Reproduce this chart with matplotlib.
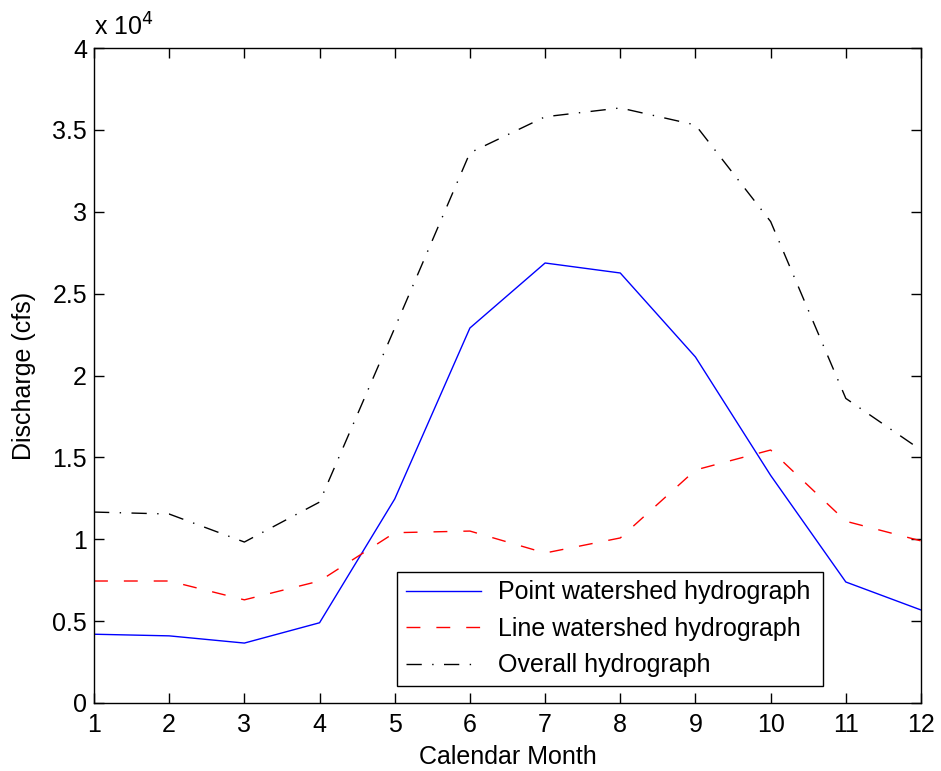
import matplotlib
matplotlib.use('Agg')
import matplotlib.pyplot as plt
import numpy as np

plt.rcParams['font.family'] = ['Liberation Sans', 'DejaVu Sans']

# Monthly discharge, in units of 1e4 cfs
months = np.arange(1, 13)
point_ws = [0.42, 0.41, 0.366, 0.49, 1.246, 2.29, 2.687, 2.626, 2.113, 1.39, 0.739, 0.568]
line_ws = [0.745, 0.745, 0.63, 0.745, 1.04, 1.05, 0.916, 1.008, 1.423, 1.545, 1.11, 0.99]
overall = [1.166, 1.154, 0.983, 1.227, 2.29, 3.36, 3.58, 3.634, 3.53, 2.94, 1.86, 1.545]

fig = plt.figure(figsize=(9.41, 7.71), dpi=100)
ax = fig.add_axes([94/941, 68/771, 827/941, 655/771])

ax.plot(months, point_ws, color='blue', lw=1.0, label='Point watershed hydrograph')
ax.plot(months, line_ws, color='red', lw=1.0, ls=(0, (10, 11.5)), label='Line watershed hydrograph')
ax.plot(months, overall, color='black', lw=1.0, ls=(0, (11, 7.5, 1, 7.5)), label='Overall hydrograph')

ax.set_xlim(1, 12)
ax.set_ylim(0, 4)
ax.set_xticks(months)
ax.set_yticks(np.arange(0, 4.01, 0.5))
ax.set_yticklabels(['0', '0.5', '1', '1.5', '2', '2.5', '3', '3.5', '4'])
ax.tick_params(direction='in', top=True, right=True, labelsize=18, length=7, width=1)
ax.tick_params(axis='x', pad=7)
ax.tick_params(axis='y', pad=5)
for s in ax.spines.values():
    s.set_linewidth(1.0)

ax.set_xlabel('Calendar Month', fontsize=18, labelpad=6)
ax.set_ylabel('Discharge (cfs)', fontsize=18, labelpad=12)
ax.text(0.0, 1.012, r'x 10$^{4}$', transform=ax.transAxes, fontsize=18, ha='left', va='bottom')

leg = ax.legend(loc='lower left', bbox_to_anchor=(303/827, 17/655, 426/827, 117/655), mode='expand',
                fontsize=18, fancybox=False, edgecolor='black', framealpha=1,
                handlelength=3.0, handletextpad=0.7, borderpad=0.35, borderaxespad=0, labelspacing=0.5)
leg.get_frame().set_linewidth(1.0)

fig.savefig('out.png', dpi=100)
